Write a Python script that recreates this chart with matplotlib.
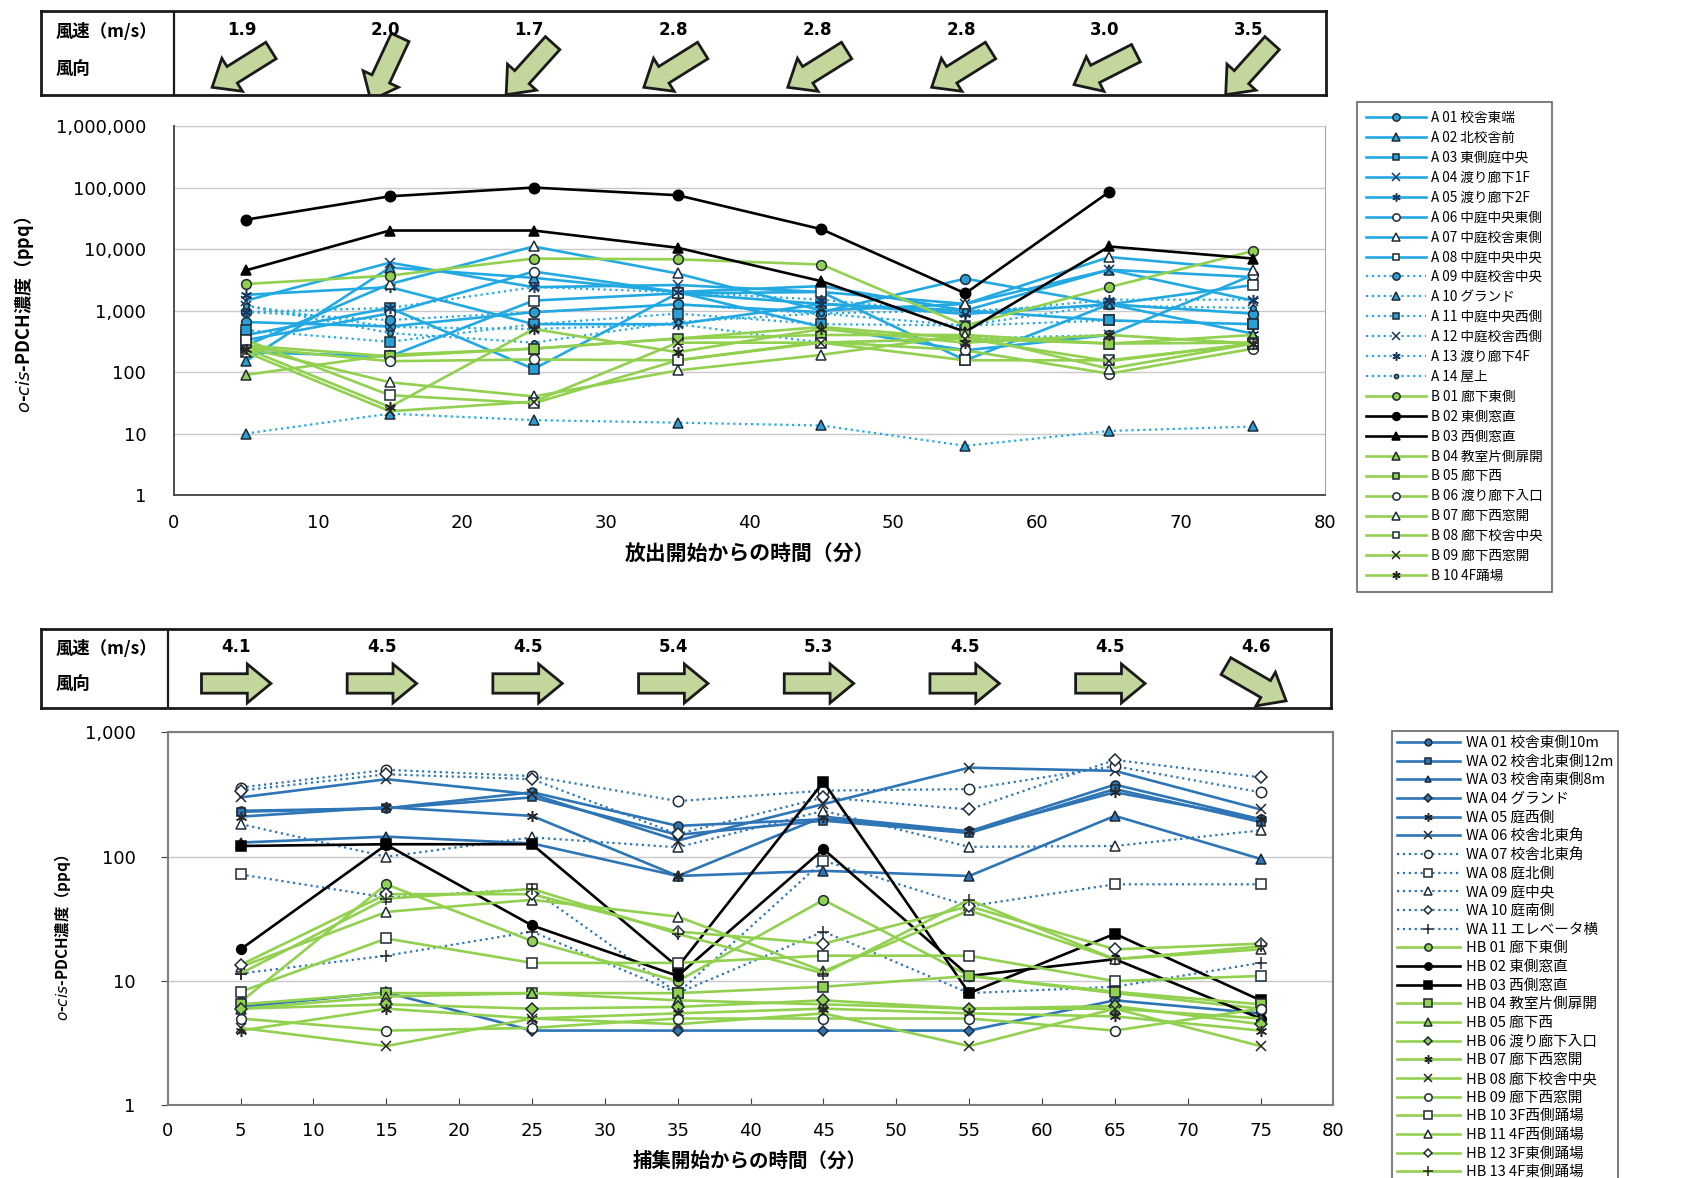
import numpy as np
import matplotlib
matplotlib.use("Agg")
import matplotlib.pyplot as plt
import matplotlib.transforms as mtransforms
from matplotlib.patches import Polygon
from matplotlib.ticker import FixedLocator, FuncFormatter, NullLocator

plt.rcParams['font.family'] = ['Noto Sans CJK JP', 'DejaVu Sans']
plt.rcParams['mathtext.fontset'] = 'dejavusans'

# ---------------------------------------------------------------- data
times = [5, 15, 25, 35, 45, 55, 65, 75]

# wind during release / sampling: speed (m/s) and arrow heading (deg, CCW from east)
release_wind_speed = [1.9, 2.0, 1.7, 2.8, 2.8, 2.8, 3.0, 3.5]
release_wind_heading = [212, 245, 228, 212, 212, 212, 207, 228]
collect_wind_speed = [4.1, 4.5, 4.5, 5.4, 5.3, 4.5, 4.5, 4.6]
collect_wind_heading = [0, 0, 0, 0, 0, 0, 0, -30]

# release period concentrations (ppq)
a01 = [650, 550, 940, 1260, 940, 3300, 1260, 890]
a02 = [150, 5000, 3400, 2000, 2500, 1000, 4600, 3500]
a03 = [400, 1100, 112, 1900, 1280, 1000, 690, 600]
a04 = [1450, 6000, 2400, 2600, 2000, 1280, 4600, 1450]
a05 = [1800, 2400, 600, 600, 1280, 880, 1260, 420]
a06 = [330, 900, 4300, 2000, 540, 225, 400, 3800]
a07 = [270, 2700, 11000, 4000, 1000, 1280, 7400, 4600]
a08 = [210, 180, 1450, 1900, 2000, 155, 1260, 2600]
a09 = [950, 700, 940, 1260, 890, 570, 1260, 890]
a10 = [10, 21, 16.5, 15, 13.5, 6.3, 11, 13]
a11 = [480, 310, 600, 890, 600, 570, 690, 600]
a12 = [1200, 540, 500, 600, 300, 350, 400, 290]
a13 = [950, 1100, 2400, 2000, 1500, 900, 1500, 1500]
a14 = [1200, 430, 300, 650, 900, 1000, 1200, 1100]
b01 = [2700, 3700, 7000, 6800, 5600, 570, 2400, 9300]
b02 = [30000, 72000, 100000, 75000, 21000, 1900, 85000, np.nan]
b03 = [4500, 20000, 20000, 10500, 3000, 450, 11000, 7000]
b04 = [90, 190, 240, 350, 540, 350, 290, 400]
b05 = [270, 180, 240, 350, 400, 400, 290, 300]
b06 = [250, 150, 160, 155, 310, 225, 94, 240]
b07 = [250, 68, 40, 106, 190, 400, 113, 290]
b08 = [330, 42, 31, 155, 300, 155, 155, 290]
b09 = [210, 23, 33, 300, 300, 350, 150, 290]
b10 = [240, 27, 500, 210, 500, 300, 400, 290]

# sampling period concentrations (ppq)
wa01 = [234, 245, 330, 177, 200, 160, 380, 200]
wa02 = [230, 245, 300, 150, 195, 155, 350, 190]
wa03 = [130, 145, 128, 70, 77, 70, 213, 96]
wa04 = [6.2, 8.1, 4, 4, 4, 4, 7, 5.5]
wa05 = [210, 250, 213, 70, 210, 160, 330, 200]
wa06 = [300, 420, 318, 135, 265, 520, 490, 240]
wa07 = [360, 500, 445, 280, 340, 350, 535, 330]
wa08 = [72, 47, 55, 8, 93, 40, 60, 60]
wa09 = [183, 100, 143, 119, 234, 120, 122, 163]
wa10 = [340, 460, 420, 152, 300, 240, 600, 435]
wa11 = [11.5, 16, 25, 8, 25, 8, 9, 14]
hb01 = [6.8, 60, 21, 10, 45, 11, 8, 6]
hb02 = [18, 125, 28, 11, 115, 11, 15, 5.0]
hb03 = [122, 126, 126, 13, 400, 8, 24, 7]
hb04 = [6.5, 8, 8, 8, 9, 11, 8.2, 6.5]
hb05 = [6, 7.5, 8, 7, 6.5, 6, 6, 5]
hb06 = [6, 6.5, 6, 6.2, 7, 6, 6.3, 4.5]
hb07 = [4, 6, 5, 5.5, 6, 5.5, 5.2, 4]
hb08 = [4.2, 3, 5, 4.5, 5.5, 3, 6, 3]
hb09 = [5, 4, 4.2, 5, 5, 5, 4, 6]
hb10 = [8.2, 22, 14, 14, 16, 16, 10, 11]
hb11 = [13, 36, 45, 33, 12, 37, 15, 18]
hb12 = [13.5, 50, 50, 25, 20, 40, 18, 20]
hb13 = [11.5, 46, 55, 24, 11.5, 45, 15, 19]

# ---------------------------------------------------------------- styles
SKY = '#22a9e1'
SKY_FILL = '#2b9fd4'
NAVY_EDGE = '#17375e'
BLUE = '#2e75b6'
GREEN = '#92d050'
BLACK = '#000000'
DARK = '#262626'
WHITE = '#ffffff'
ARROW_FILL = '#c3d69b'
AST = (6, 2, 0)

# (label, values, line colour, linestyle, marker, marker face, marker size)
release_series = [
    ('A 01 校舎東端', a01, SKY, '-', 'o', SKY_FILL, 7),
    ('A 02 北校舎前', a02, SKY, '-', '^', SKY_FILL, 7),
    ('A 03 東側庭中央', a03, SKY, '-', 's', SKY_FILL, 6.5),
    ('A 04 渡り廊下1F', a04, SKY, '-', 'x', None, 7),
    ('A 05 渡り廊下2F', a05, SKY, '-', AST, None, 8),
    ('A 06 中庭中央東側', a06, SKY, '-', 'o', WHITE, 7),
    ('A 07 中庭校舎東側', a07, SKY, '-', '^', WHITE, 7),
    ('A 08 中庭中央中央', a08, SKY, '-', 's', WHITE, 6.5),
    ('A 09 中庭校舎中央', a09, SKY, ':', 'o', SKY_FILL, 7),
    ('A 10 グランド', a10, SKY, ':', '^', SKY_FILL, 7),
    ('A 11 中庭中央西側', a11, SKY, ':', 's', SKY_FILL, 6.5),
    ('A 12 中庭校舎西側', a12, SKY, ':', 'x', None, 7),
    ('A 13 渡り廊下4F', a13, SKY, ':', AST, None, 8),
    ('A 14 屋上', a14, SKY, ':', 'o', SKY_FILL, 4),
    ('B 01 廊下東側', b01, GREEN, '-', 'o', GREEN, 7),
    ('B 02 東側窓直', b02, BLACK, '-', 'o', BLACK, 7.5),
    ('B 03 西側窓直', b03, BLACK, '-', '^', BLACK, 7.5),
    ('B 04 教室片側扉開', b04, GREEN, '-', '^', GREEN, 7),
    ('B 05 廊下西', b05, GREEN, '-', 's', GREEN, 6.5),
    ('B 06 渡り廊下入口', b06, GREEN, '-', 'o', WHITE, 7),
    ('B 07 廊下西窓開', b07, GREEN, '-', '^', WHITE, 7),
    ('B 08 廊下校舎中央', b08, GREEN, '-', 's', WHITE, 6.5),
    ('B 09 廊下西窓開', b09, GREEN, '-', 'x', None, 7),
    ('B 10 4F踊場', b10, GREEN, '-', AST, None, 8),
]

collect_series = [
    ('WA 01 校舎東側10m', wa01, BLUE, '-', 'o', BLUE, 6.5),
    ('WA 02 校舎北東側12m', wa02, BLUE, '-', 's', BLUE, 6),
    ('WA 03 校舎南東側8m', wa03, BLUE, '-', '^', BLUE, 6.5),
    ('WA 04 グランド', wa04, BLUE, '-', 'D', BLUE, 5.5),
    ('WA 05 庭西側', wa05, BLUE, '-', AST, None, 8),
    ('WA 06 校舎北東角', wa06, BLUE, '-', 'x', None, 7),
    ('WA 07 校舎北東角', wa07, BLUE, ':', 'o', WHITE, 7.5),
    ('WA 08 庭北側', wa08, BLUE, ':', 's', WHITE, 7),
    ('WA 09 庭中央', wa09, BLUE, ':', '^', WHITE, 7),
    ('WA 10 庭南側', wa10, BLUE, ':', 'D', WHITE, 6),
    ('WA 11 エレベータ横', wa11, BLUE, ':', '+', None, 9),
    ('HB 01 廊下東側', hb01, GREEN, '-', 'o', GREEN, 7),
    ('HB 02 東側窓直', hb02, BLACK, '-', 'o', BLACK, 7),
    ('HB 03 西側窓直', hb03, BLACK, '-', 's', BLACK, 7),
    ('HB 04 教室片側扉開', hb04, GREEN, '-', 's', GREEN, 7),
    ('HB 05 廊下西', hb05, GREEN, '-', '^', GREEN, 7),
    ('HB 06 渡り廊下入口', hb06, GREEN, '-', 'D', GREEN, 6),
    ('HB 07 廊下西窓開', hb07, GREEN, '-', AST, None, 8),
    ('HB 08 廊下校舎中央', hb08, GREEN, '-', 'x', None, 7),
    ('HB 09 廊下西窓開', hb09, GREEN, '-', 'o', WHITE, 7),
    ('HB 10 3F西側踊場', hb10, GREEN, '-', 's', WHITE, 7),
    ('HB 11 4F西側踊場', hb11, GREEN, '-', '^', WHITE, 7),
    ('HB 12 3F東側踊場', hb12, GREEN, '-', 'D', WHITE, 6),
    ('HB 13 4F東側踊場', hb13, GREEN, '-', '+', None, 9),
]

fig = plt.figure(figsize=(16.86, 11.78), dpi=100)


def draw_series(ax, series, line_edge):
    handles = []
    for label, vals, col, ls, mk, face, ms in series:
        if face is None:
            mec = DARK if col != SKY else NAVY_EDGE
            mfc = 'none'
        else:
            mec = BLACK if col == BLACK else line_edge
            mfc = face
        lw = 1.6 if ls == ':' else 1.9
        h, = ax.plot(times, vals, color=col, linestyle=ls, lw=lw, marker=mk,
                     ms=ms, mfc=mfc, mec=mec, mew=1.1, label=label,
                     clip_on=False, zorder=3)
        handles.append(h)
    return handles


def block_arrow(ax, x, y, heading):
    length, head_len, shaft_w, head_w = 50, 17, 14, 28
    pts = np.array([
        (-length / 2, -shaft_w / 2), (length / 2 - head_len, -shaft_w / 2),
        (length / 2 - head_len, -head_w / 2), (length / 2, 0),
        (length / 2 - head_len, head_w / 2), (length / 2 - head_len, shaft_w / 2),
        (-length / 2, shaft_w / 2)])
    tr = (mtransforms.Affine2D().rotate_deg(heading).scale(1 / 72.)
          + fig.dpi_scale_trans
          + mtransforms.ScaledTranslation(x, y, ax.transData))
    ax.add_patch(Polygon(pts, closed=True, transform=tr, facecolor=ARROW_FILL,
                         edgecolor='#1a1a1a', lw=2.0, joinstyle='miter'))


def wind_table(rect, xleft, xright, speeds, headings):
    ax = fig.add_axes(rect)
    ax.set_xlim(xleft, xright)
    ax.set_ylim(0, 1)
    ax.set_xticks([])
    ax.set_yticks([])
    for s in ax.spines.values():
        s.set_linewidth(2.0)
        s.set_color('#1a1a1a')
    ax.axvline(0, color='#1a1a1a', lw=1.6)
    ax.text(xleft + 1.0, 0.75, '風速（m/s）', fontsize=12.5, fontweight='bold',
            va='center', ha='left')
    ax.text(xleft + 1.0, 0.31, '風向', fontsize=12.5, fontweight='bold',
            va='center', ha='left')
    for t, sp, hd in zip(times, speeds, headings):
        ax.text(t - 0.3, 0.77, f'{sp:.1f}', fontsize=12, fontweight='bold',
                ha='center', va='center', family='DejaVu Sans')
        block_arrow(ax, t - 0.3, 0.31, hd)
    return ax


def value_fmt(v, pos):
    return f'{int(round(v)):,}'


# ---------------------------------------------------------------- release period
wind_table([0.0243, 0.9194, 0.7622, 0.0713], -9.24, 80.06,
           release_wind_speed, release_wind_heading)

ax1 = fig.add_axes([0.1032, 0.5798, 0.6827, 0.3132])
ax1.set_yscale('log')
ax1.set_ylim(1, 1e6)
ax1.set_xlim(0, 80)
ax1.yaxis.set_major_locator(FixedLocator([1, 10, 100, 1e3, 1e4, 1e5, 1e6]))
ax1.yaxis.set_minor_locator(NullLocator())
ax1.yaxis.set_major_formatter(FuncFormatter(value_fmt))
ax1.set_xticks(range(0, 81, 10))
ax1.grid(axis='y', color='#c8c8c8', lw=1.0, zorder=0)
ax1.set_axisbelow(True)
ax1.tick_params(axis='y', length=0, pad=20)
ax1.tick_params(axis='x', length=0, pad=14)
for lab in ax1.get_xticklabels() + ax1.get_yticklabels():
    lab.set_fontfamily('DejaVu Sans')
    lab.set_fontsize(13)
ax1.spines['top'].set_visible(False)
ax1.spines['right'].set_color('#a6a6a6')
ax1.spines['left'].set_color('#404040')
ax1.spines['bottom'].set_color('#404040')
ax1.spines['left'].set_linewidth(1.3)
ax1.spines['bottom'].set_linewidth(1.3)
h1 = draw_series(ax1, release_series, '#1e2a36')

fig.text(0.4446, 0.5297, '放出開始からの時間（分）', fontsize=15, fontweight='bold',
         ha='center', va='center')
fig.text(0.0142, 0.7326, r'$\mathit{o}$-$\mathit{cis}$-PDCH濃度（ppq）',
         fontsize=13, fontweight='bold', rotation=90, ha='center', va='center',
         family='Noto Sans CJK JP')

leg1 = fig.legend(handles=h1, loc='upper left', bbox_to_anchor=(0.8049, 0.9134),
                  fontsize=9.8, frameon=True, fancybox=False, edgecolor='#404040',
                  handlelength=4.4, handletextpad=0.4, labelspacing=0.435,
                  borderpad=0.65, borderaxespad=0, numpoints=1, markerscale=0.75)
leg1.get_frame().set_linewidth(1.2)

# ---------------------------------------------------------------- sampling period
wind_table([0.0243, 0.399, 0.7651, 0.0671], -8.70, 79.84,
           collect_wind_speed, collect_wind_heading)

ax2 = fig.add_axes([0.0995, 0.0616, 0.6914, 0.3167])
ax2.set_yscale('log')
ax2.set_ylim(1, 1000)
ax2.set_xlim(0, 80)
ax2.yaxis.set_major_locator(FixedLocator([1, 10, 100, 1000]))
ax2.yaxis.set_minor_locator(NullLocator())
ax2.yaxis.set_major_formatter(FuncFormatter(value_fmt))
ax2.set_xticks(range(0, 81, 5))
ax2.set_xticklabels([str(v) for v in range(0, 81, 5)])
ax2.grid(axis='y', color='#c8c8c8', lw=1.0, zorder=0)
ax2.set_axisbelow(True)
ax2.tick_params(axis='y', length=5, direction='out', pad=18, color='#404040')
ax2.tick_params(axis='x', length=5, direction='in', pad=12, color='#404040')
for lab in ax2.get_xticklabels() + ax2.get_yticklabels():
    lab.set_fontfamily('DejaVu Sans')
    lab.set_fontsize(13)
for s in ax2.spines.values():
    s.set_color('#7f7f7f')
    s.set_linewidth(1.5)
h2 = draw_series(ax2, collect_series, '#1e2a36')

fig.text(0.4446, 0.0144, '捕集開始からの時間（分）', fontsize=14, fontweight='bold',
         ha='center', va='center')
fig.text(0.0368, 0.2037, r'$\mathit{o}$-$\mathit{cis}$-PDCH濃度（ppq）',
         fontsize=11, fontweight='bold', rotation=90, ha='center', va='center',
         family='Noto Sans CJK JP')

leg2 = fig.legend(handles=h2, loc='upper left', bbox_to_anchor=(0.8256, 0.3795),
                  fontsize=10.5, frameon=True, fancybox=False, edgecolor='#404040',
                  handlelength=4.3, handletextpad=0.4, labelspacing=0.32,
                  borderpad=0.35, borderaxespad=0, numpoints=1, markerscale=0.75)
leg2.get_frame().set_linewidth(1.2)

fig.savefig('out.png', dpi=100)
